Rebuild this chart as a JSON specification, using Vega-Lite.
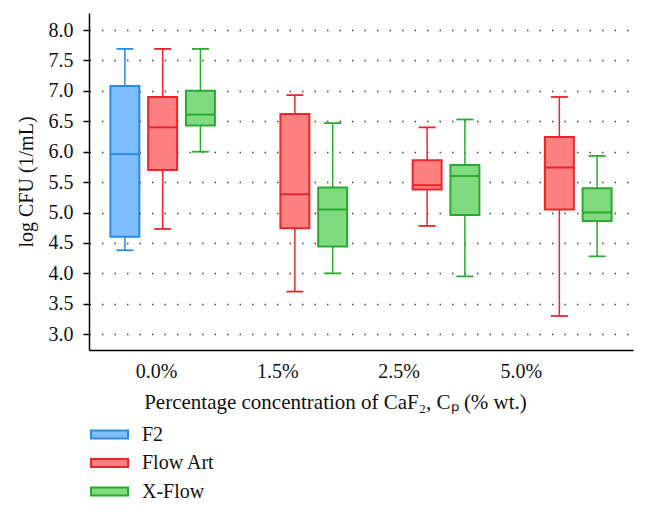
{
  "$schema": "https://vega.github.io/schema/vega-lite/v6.json",
  "width": 544,
  "height": 337,
  "autosize": "none",
  "padding": {"left": 89, "top": 13, "right": 15, "bottom": 162},
  "background": "white",
  "config": {
    "font": "Liberation Serif",
    "view": {"stroke": null},
    "style": {"guide-label": {"font": "Liberation Serif"}, "guide-title": {"font": "Liberation Serif"}},
    "axis": {"labelFont": "Liberation Serif", "titleFont": "Liberation Serif", "labelColor": "#111", "titleColor": "#111", "titleFontWeight": "normal"},
    "legend": {
      "title": null, "orient": "none", "legendX": 10, "legendY": 411, "direction": "vertical",
      "symbolType": "M-2,-0.44H2V0.44H-2Z", "symbolSize": 342, "symbolStrokeWidth": 2,
      "labelFont": "Liberation Serif", "labelFontSize": 20, "labelColor": "#111", "labelOffset": 22,
      "rowPadding": 7.5, "padding": 0
    }
  },
  "data": {
    "values": [
      {"conc": "0.0%", "series": "F2", "min": 4.38, "q1": 4.60, "median": 5.96, "q3": 7.08, "max": 7.69},
      {"conc": "0.0%", "series": "Flow Art", "min": 4.73, "q1": 5.70, "median": 6.40, "q3": 6.90, "max": 7.69},
      {"conc": "0.0%", "series": "X-Flow", "min": 6.00, "q1": 6.43, "median": 6.61, "q3": 7.00, "max": 7.69},
      {"conc": "1.5%", "series": "Flow Art", "min": 3.70, "q1": 4.74, "median": 5.30, "q3": 6.62, "max": 6.93},
      {"conc": "1.5%", "series": "X-Flow", "min": 4.00, "q1": 4.44, "median": 5.05, "q3": 5.41, "max": 6.47},
      {"conc": "2.5%", "series": "Flow Art", "min": 4.78, "q1": 5.38, "median": 5.45, "q3": 5.86, "max": 6.40},
      {"conc": "2.5%", "series": "X-Flow", "min": 3.95, "q1": 4.96, "median": 5.60, "q3": 5.78, "max": 6.53},
      {"conc": "5.0%", "series": "Flow Art", "min": 3.30, "q1": 5.05, "median": 5.74, "q3": 6.24, "max": 6.90},
      {"conc": "5.0%", "series": "X-Flow", "min": 4.28, "q1": 4.86, "median": 5.00, "q3": 5.40, "max": 5.93}
    ]
  },
  "encoding": {
    "x": {
      "field": "conc", "type": "nominal", "sort": ["0.0%", "1.5%", "2.5%", "5.0%"],
      "scale": {"paddingInner": 0, "paddingOuter": 0.057},
      "axis": {
        "title": "Percentage concentration of CaF₂, Cₚ (% wt.)",
        "labelAngle": 0, "labelFontSize": 20, "titleFontSize": 21,
        "ticks": false, "labelPadding": 11, "titlePadding": 10, "titleX": 246,
        "labelOffset": {"condition": [{"test": "datum.value === '0.0%'", "value": -6}, {"test": "datum.value === '1.5%'", "value": -17}, {"test": "datum.value === '2.5%'", "value": -28}], "value": -38},
        "domainColor": "#000", "domainWidth": 1.5, "grid": false
      }
    },
    "xOffset": {
      "field": "series", "type": "nominal",
      "scale": {"domain": ["F2", "Flow Art", "X-Flow"], "paddingInner": 0.233, "paddingOuter": 0.367}
    }
  },
  "layer": [
    {
      "mark": {"type": "rule", "strokeWidth": 1.5},
      "encoding": {
        "y": {
          "field": "min", "type": "quantitative",
          "scale": {"domain": [2.74, 8.28], "nice": false, "zero": false},
          "axis": {
            "title": "log CFU (1/mL)", "tickCount": 11, "format": ".1f",
            "labelOverlap": false, "labelFontSize": 20, "titleFontSize": 20, "tickSize": 6, "tickColor": "#000", "tickWidth": 1.5,
            "labelPadding": 10, "titlePadding": 12,
            "domainColor": "#000", "domainWidth": 1.5,
            "grid": true, "gridColor": "#444", "gridDash": [1.5, 11], "gridWidth": 1.5
          }
        },
        "y2": {"field": "max"},
        "stroke": {
          "field": "series", "type": "nominal",
          "scale": {"domain": ["F2", "Flow Art", "X-Flow"], "range": ["#2a8ae6", "#e8262a", "#2aaa30"]},
          "legend": {"labelFont": "Liberation Serif", "labelFontSize": 20, "rowPadding": 7.5}
        }
      }
    },
    {
      "mark": {"type": "bar", "strokeWidth": 2, "fillOpacity": 1},
      "encoding": {
        "y": {"field": "q1", "type": "quantitative"},
        "y2": {"field": "q3"},
        "fill": {
          "field": "series", "type": "nominal",
          "scale": {"domain": ["F2", "Flow Art", "X-Flow"], "range": ["#80bfff", "#ff8080", "#80da80"]},
          "legend": {"labelFont": "Liberation Serif", "labelFontSize": 20, "rowPadding": 7.5}
        },
        "stroke": {"field": "series", "type": "nominal", "legend": {"labelFont": "Liberation Serif", "labelFontSize": 20, "rowPadding": 7.5}}
      }
    },
    {
      "mark": {"type": "tick", "size": 17, "thickness": 1.8, "opacity": 1},
      "encoding": {
        "y": {"field": "min", "type": "quantitative"},
        "color": {"field": "series", "type": "nominal", "scale": {"domain": ["X-Flow", "Flow Art", "F2"], "range": ["#2aaa30", "#e8262a", "#2a8ae6"]}, "legend": null}
      }
    },
    {
      "mark": {"type": "tick", "size": 17, "thickness": 1.8, "opacity": 1},
      "encoding": {
        "y": {"field": "max", "type": "quantitative"},
        "color": {"field": "series", "type": "nominal", "legend": null}
      }
    },
    {
      "mark": {"type": "tick", "size": 29, "thickness": 2, "opacity": 1},
      "encoding": {
        "y": {"field": "median", "type": "quantitative"},
        "color": {"field": "series", "type": "nominal", "legend": null}
      }
    }
  ]
}
